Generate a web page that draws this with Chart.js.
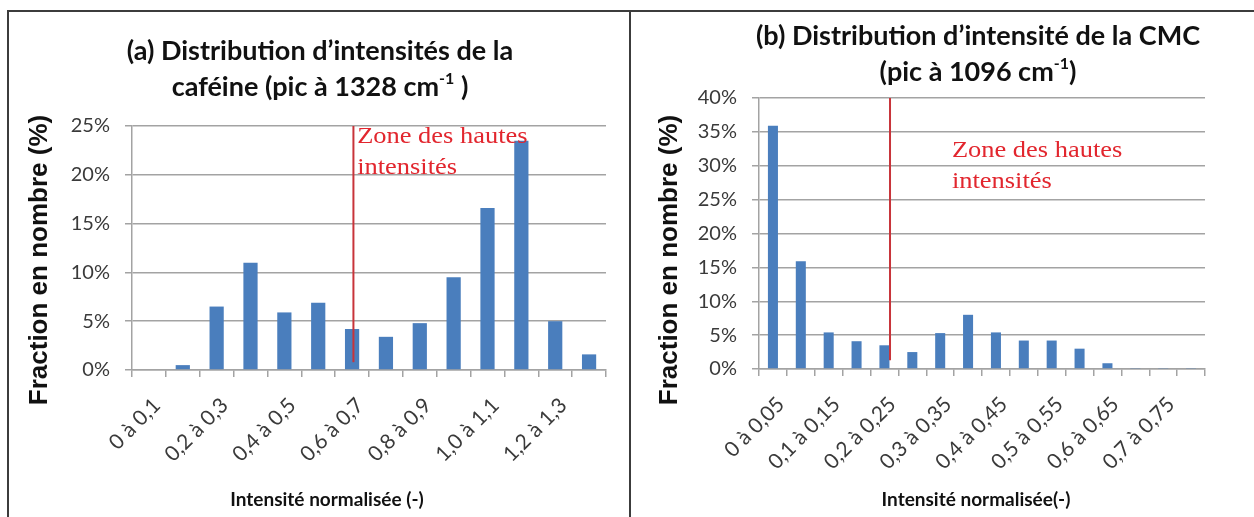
<!DOCTYPE html>
<html lang="fr">
<head>
<meta charset="utf-8">
<title>Distribution d'intensités</title>
<script src="https://cdn.jsdelivr.net/npm/chart.js@4/dist/chart.umd.min.js"></script>
<style>
  body { margin: 0; background: #fff; }
  #page { position: relative; width: 1254px; height: 517px; overflow: hidden; background: #fff; }
  .panel { position: absolute; top: 0; height: 517px; }
  .rule { position: absolute; background: #3c3c3c; z-index: 2; }
  .titre { position: absolute; text-align: center; font-family: Lato, sans-serif; font-weight: bold;
           font-size: 27px; line-height: 36px; color: #111; white-space: nowrap; }
  .titre sup { font-size: 16px; line-height: 0; position: relative; top: -2px; vertical-align: super; }
  .xtitre { position: absolute; text-align: center; font-family: Lato, sans-serif; font-weight: bold;
            font-size: 19px; color: #111; }
  .ytitre { position: absolute; width: 320px; height: 32px; line-height: 32px; text-align: center;
            font-family: "Liberation Sans", Arial, sans-serif; font-weight: bold; font-size: 26px;
            color: #111; transform: rotate(-90deg); white-space: nowrap; }
</style>
</head>
<body>
<div id="page">
  <div class="rule" style="left:7px; top:10px; width:1247px; height:2px;"></div>
  <div class="rule" style="left:7px; top:10px; width:2px; height:507px;"></div>
  <div class="rule" style="left:629px; top:10px; width:2px; height:507px;"></div>

  <div class="panel" style="left:0; width:630px;"><canvas id="chartA" width="630" height="517"></canvas></div>
  <div class="panel" style="left:630px; width:624px;"><canvas id="chartB" width="624" height="517"></canvas></div>

  <div class="titre" style="left:70px; width:500px; top:32px;">(a) Distribution d’intensités de la<br>caféine (pic à 1328 cm<sup>-1</sup> )</div>
  <div class="titre" style="left:728px; width:500px; top:17px;">(b) Distribution d’intensité de la CMC<br>(pic à 1096 cm<sup>-1</sup>)</div>

  <div class="ytitre" style="left:-122px; top:244px;">Fraction en nombre (%)</div>
  <div class="ytitre" style="left:508px; top:244px;">Fraction en nombre (%)</div>

  <div class="xtitre" style="left:177px; width:300px; top:487px;">Intensité normalisée (-)</div>
  <div class="xtitre" style="left:826px; width:300px; top:487px;">Intensité normalisée(-)</div>
</div>

<script>
// (a) caféine, pic à 1328 cm-1
const categoriesA = ['0 à 0,1', '0,1 à 0,2', '0,2 à 0,3', '0,3 à 0,4', '0,4 à 0,5', '0,5 à 0,6', '0,6 à 0,7',
                     '0,7 à 0,8', '0,8 à 0,9', '0,9 à 1,0', '1,0 à 1,1', '1,1 à 1,2', '1,2 à 1,3', '1,3 à 1,4'];
const fractionsA = [0, 0.5, 6.5, 11.0, 5.9, 6.9, 4.2, 3.4, 4.8, 9.5, 16.6, 23.5, 5.0, 1.6];
const ticksA = [0, 5, 10, 15, 20, 25];

// (b) CMC, pic à 1096 cm-1
const categoriesB = ['0 à 0,05', '0,05 à 0,1', '0,1 à 0,15', '0,15 à 0,2', '0,2 à 0,25', '0,25 à 0,3',
                     '0,3 à 0,35', '0,35 à 0,4', '0,4 à 0,45', '0,45 à 0,5', '0,5 à 0,55', '0,55 à 0,6',
                     '0,6 à 0,65', '0,65 à 0,7', '0,7 à 0,75', '0,75 à 0,8'];
const fractionsB = [35.9, 15.9, 5.4, 4.1, 3.5, 2.5, 5.3, 8.0, 5.4, 4.2, 4.2, 3.0, 0.85, 0.15, 0.15, 0.15];
const ticksB = [0, 5, 10, 15, 20, 25, 30, 35, 40];

// seuil "Zone des hautes intensités" (position en index de catégorie, bornes en %)
const zoneA = { at: 6.04, from: 0.8, to: 25, textAt: 6.15, textY: 23.3 };
const zoneB = { at: 4.2, from: 1.3, to: 40, textAt: 6.42, textY: 31.3 };
const zoneLines = ['Zone des hautes', 'intensités'];

const grey = '#a3a3a3';
const tickColor = '#3a3a3a';

// red threshold line + label, placed with the chart's own scales
const zonePlugin = {
  id: 'zone',
  afterDatasetsDraw(chart, args, opts) {
    const { ctx, scales: { x, y } } = chart;
    const px = x.getPixelForValue(opts.at);
    ctx.save();
    ctx.strokeStyle = '#c8343a';
    ctx.lineWidth = 2;
    ctx.beginPath();
    ctx.moveTo(px, y.getPixelForValue(opts.to));
    ctx.lineTo(px, y.getPixelForValue(opts.from));
    ctx.stroke();

    ctx.fillStyle = '#e2262e';
    ctx.font = '23px "Liberation Serif", "Times New Roman", serif';
    ctx.textBaseline = 'alphabetic';
    const tx = x.getPixelForValue(opts.textAt);
    const ty = y.getPixelForValue(opts.textY);
    zoneLines.forEach((line, i) => {
      ctx.save();
      ctx.translate(tx, ty + i * 31);
      ctx.scale(1.15, 1);
      ctx.fillText(line, 0, 0);
      ctx.restore();
    });
    ctx.restore();
  }
};

function makeChart(id, labels, values, yTicks, barPct, zone, pad, yWidth) {
  const ctx = document.getElementById(id).getContext('2d');
  return new Chart(ctx, {
    type: 'bar',
    data: {
      labels: labels,
      datasets: [{
        data: values,
        backgroundColor: '#4a7ebd',
        borderWidth: 0,
        barPercentage: barPct,
        categoryPercentage: 1
      }]
    },
    options: {
      responsive: false,
      animation: false,
      layout: { padding: pad },
      plugins: {
        legend: { display: false },
        tooltip: { enabled: false },
        zone: zone
      },
      scales: {
        x: {
          offset: true,
          grid: { offset: true, drawOnChartArea: false, color: grey, lineWidth: 1.5, tickLength: 7 },
          border: { color: grey, width: 1.5 },
          ticks: {
            autoSkip: false,
            maxRotation: 45,
            minRotation: 45,
            padding: 16,
            labelOffset: 8,
            color: tickColor,
            font: { family: 'Lato', size: 21 },
            callback: (v, i) => (i % 2 === 0 ? labels[i] : '')
          },
          afterFit: s => { s.height = 110; }
        },
        y: {
          min: 0,
          max: yTicks[yTicks.length - 1],
          afterBuildTicks: s => { s.ticks = yTicks.map(v => ({ value: v })); },
          grid: { color: grey, lineWidth: 1.5, tickLength: 7 },
          border: { color: grey, width: 1.5 },
          ticks: {
            padding: 15,
            color: tickColor,
            font: { family: 'Lato', size: 20 },
            callback: v => v + '%'
          },
          afterFit: s => { s.width = yWidth; }
        }
      }
    },
    plugins: [zonePlugin]
  });
}

makeChart('chartA', categoriesA, fractionsA, ticksA, 0.42, zoneA,
          { top: 126, right: 24, bottom: 37, left: 0 }, 132);
makeChart('chartB', categoriesB, fractionsB, ticksB, 0.36, zoneB,
          { top: 98, right: 49, bottom: 38, left: 0 }, 129);
</script>
</body>
</html>
